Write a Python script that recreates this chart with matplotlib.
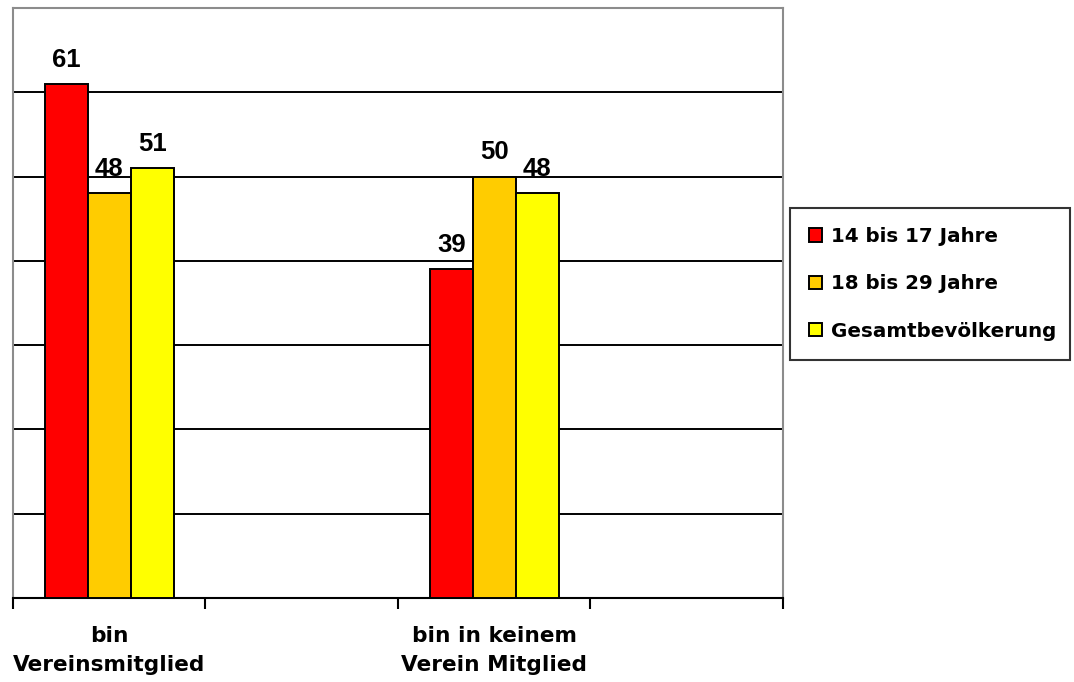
import numpy as np
import matplotlib.pyplot as plt

plt.rcParams['font.family'] = ['Liberation Sans', 'DejaVu Sans']
plt.rcParams['font.weight'] = 'bold'

categories = ['bin\nVereinsmitglied', 'bin in keinem\nVerein Mitglied']
series = ['14 bis 17 Jahre', '18 bis 29 Jahre', 'Gesamtbevölkerung']
values = [
    [61, 39],
    [48, 50],
    [51, 48],
]
colors = ['#FF0000', '#FFCC00', '#FFFF00']

fig = plt.figure(figsize=(10.74, 6.82), dpi=100)
ax = fig.add_axes([13 / 1074, 84 / 682, 770 / 1074, 590 / 682])

# each category sits in every other slot, empty slots between
centers = np.arange(len(categories)) * 2 + 0.5
w = 0.2234
handles = []
for i, (name, vals, c) in enumerate(zip(series, values, colors)):
    x = centers + (i - 1) * w
    b = ax.bar(x, vals, w, color=c, edgecolor='black', linewidth=1.4,
               label=name, zorder=3)
    handles.append(b)
    for xi, v in zip(x, vals):
        ax.text(xi, v + 1.45, str(v), ha='center', va='bottom',
                fontsize=18.5, fontweight='bold', zorder=4)

ax.set_xlim(0, 4)
ax.set_ylim(0, 70)
ax.set_yticks(np.arange(10, 70, 10))
ax.yaxis.grid(True, color='black', linewidth=1.4, zorder=1)
ax.tick_params(axis='y', length=0, labelleft=False)

ax.set_xticks(np.arange(0, 5, 1))
ax.set_xticklabels([])
ax.tick_params(axis='x', which='major', length=8, width=1.5, direction='out')
ax.set_xticks(centers, minor=True)
ax.set_xticklabels(categories, minor=True, fontsize=15.6, fontweight='bold',
                   family='DejaVu Sans', linespacing=1.6)
ax.tick_params(axis='x', which='minor', length=0, pad=20)

for s in ['left', 'top', 'right']:
    ax.spines[s].set_color('#8c8c8c')
    ax.spines[s].set_linewidth(1.5)
ax.spines['bottom'].set_color('black')
ax.spines['bottom'].set_linewidth(1.5)

leg = fig.legend(handles=handles, loc='upper left',
                 bbox_to_anchor=(790 / 1074, 1 - 357 / 682, 280 / 1074, 149 / 682),
                 mode='expand', borderaxespad=0, frameon=True, fancybox=False,
                 prop={'family': 'DejaVu Sans', 'weight': 'bold', 'size': 14.3},
                 handlelength=0.65, handleheight=0.65, handletextpad=0.45,
                 labelspacing=1.43, borderpad=0.95)
leg.get_frame().set_edgecolor('black')
leg.get_frame().set_linewidth(1.5)

fig.savefig('out.png', dpi=100)
